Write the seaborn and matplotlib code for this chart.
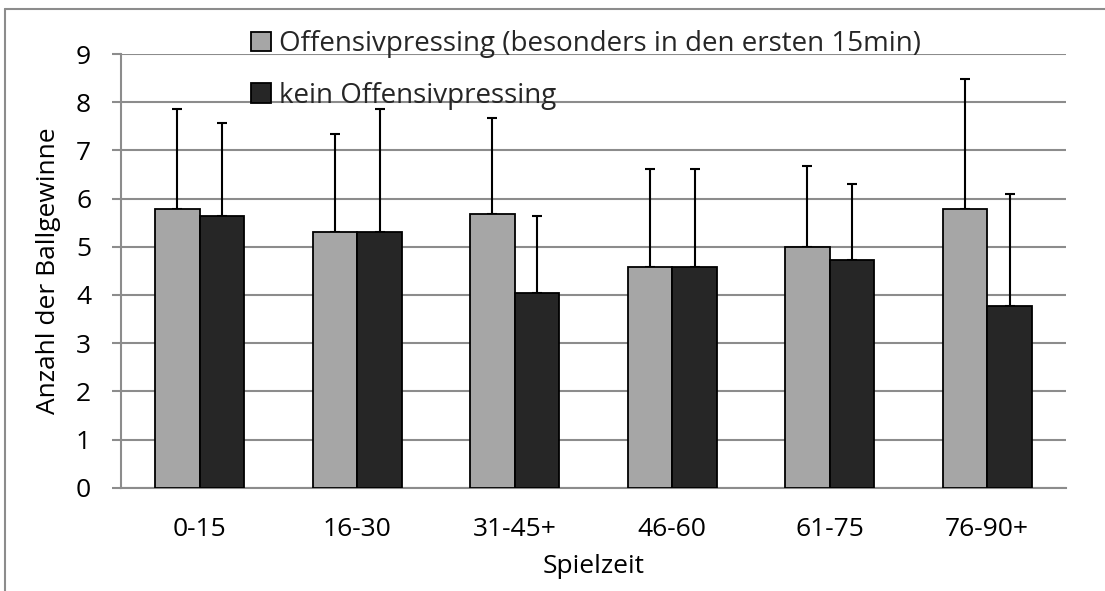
import matplotlib
matplotlib.use("Agg")
import matplotlib.pyplot as plt
import seaborn as sns
import pandas as pd
import numpy as np
from matplotlib.lines import Line2D

categories = ["0-15", "16-30", "31-45+", "46-60", "61-75", "76-90+"]
series_names = ["Offensivpressing (besonders in den ersten 15min)", "kein Offensivpressing"]
mean_press = [5.79, 5.30, 5.67, 4.58, 4.99, 5.78]
mean_nopress = [5.64, 5.31, 4.05, 4.59, 4.72, 3.78]
sd_press = [2.07, 2.04, 2.01, 2.03, 1.68, 2.70]
sd_nopress = [1.93, 2.55, 1.59, 2.03, 1.59, 2.32]
yticks = list(range(0, 10))

df = pd.DataFrame({
    "Spielzeit": categories * 2,
    "Wert": mean_press + mean_nopress,
    "SD": sd_press + sd_nopress,
    "Gruppe": [series_names[0]] * 6 + [series_names[1]] * 6,
})

sns.set_theme(style="white")
FONT = ["Open Sans", "DejaVu Sans"]
plt.rcParams["font.family"] = FONT

fig = plt.figure(figsize=(11.05, 5.91), dpi=100)
ax = fig.add_axes([121/1105, 1-487.7/591, (1066-121)/1105, (487.7-54)/591])

colors = ["#a6a6a6", "#262626"]
sns.barplot(data=df, x="Spielzeit", y="Wert", hue="Gruppe", order=categories,
            hue_order=series_names, palette=colors, width=0.566, gap=0,
            edgecolor="black", linewidth=1.3, errorbar=None, ax=ax, zorder=3,
            legend=False)

# one-sided error bars from the bar geometry
for container, sds in zip(ax.containers, [sd_press, sd_nopress]):
    xs = [p.get_x() + p.get_width()/2 for p in container.patches]
    hs = [p.get_height() for p in container.patches]
    ax.errorbar(xs, hs, yerr=[np.zeros(len(sds)), sds], fmt="none",
                ecolor="black", elinewidth=1.5, capsize=3.4, capthick=1.5, zorder=2)

ax.set_ylim(0, 9)
ax.set_yticks(yticks)
ax.set_xlim(-0.5, 5.5)
ax.yaxis.grid(True, color="#8c8c8c", linewidth=1.5, zorder=0)
ax.set_axisbelow(True)
for s in ["top", "right"]:
    ax.spines[s].set_visible(False)
ax.spines["left"].set_color("#8c8c8c")
ax.spines["left"].set_linewidth(1.5)
ax.spines["bottom"].set_color("#8c8c8c")
ax.spines["bottom"].set_linewidth(1.5)
ax.tick_params(axis="y", which="both", left=True, length=6.5, width=1.5,
               color="#8c8c8c", labelsize=19, pad=15)
ax.tick_params(axis="x", bottom=False, labelsize=19, pad=15)
for t in ax.get_yticklabels() + ax.get_xticklabels():
    t.set_color("black")
ax.set_xlabel("Spielzeit", fontsize=19, color="black", labelpad=9)
ax.set_ylabel("Anzahl der Ballgewinne", fontsize=19, color="black", labelpad=11)

handles = [plt.Rectangle((0, 0), 1, 1, facecolor=c, edgecolor="black", linewidth=1.3) for c in colors]
leg = fig.legend(handles, series_names, loc="upper left", bbox_to_anchor=(240/1105, 1-19/591),
                 frameon=False, fontsize=20, handlelength=0.7, handleheight=0.7,
                 handletextpad=0.3, labelspacing=0.85, borderaxespad=0)

# outer chart frame
fig.add_artist(Line2D([5/1105, 5/1105], [0, 1-9/591], transform=fig.transFigure,
                      color="#8c8c8c", linewidth=1.5))
fig.add_artist(Line2D([5/1105, 1], [1-9/591, 1-9/591], transform=fig.transFigure,
                      color="#8c8c8c", linewidth=1.5))

fig.savefig("out.png", dpi=100)
